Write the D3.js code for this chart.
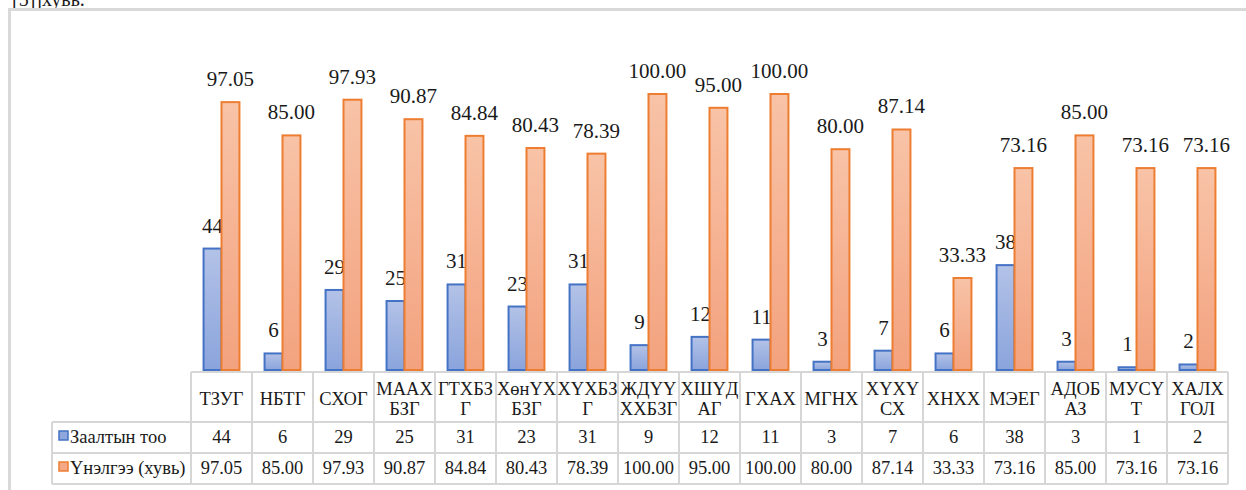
<!DOCTYPE html>
<html>
<head>
<meta charset="utf-8">
<script src="https://cdn.jsdelivr.net/npm/d3@7"></script>
</head>
<body style="margin:0; background:#fff">
<script>
var width = 1246; var height = 490;

// category names, each split in the lines shown in the table header
var categories = ["ТЗУГ", "НБТГ", "СХОГ", "МААХ БЗГ", "ГТХБЗ Г", "ХөнҮХ БЗГ", "ХҮХБЗ Г",
    "ЖДҮҮ ХХБЗГ", "ХШҮД АГ", "ГХАХ", "МГНХ", "ХҮХҮ СХ", "ХНХХ", "МЭЕГ", "АДОБ АЗ", "МУСҮ Т", "ХАЛХ ГОЛ"];
var counts = [44, 6, 29, 25, 31, 23, 31, 9, 12, 11, 3, 7, 6, 38, 3, 1, 2];
var scores = [97.05, 85.00, 97.93, 90.87, 84.84, 80.43, 78.39, 100.00, 95.00, 100.00, 80.00, 87.14, 33.33, 73.16, 85.00, 73.16, 73.16];
var seriesNames = ["Заалтын тоо", "Үнэлгээ (хувь)"];

var plot = { left: 191, right: 1228, top: 94, base: 370 };
var table = { legendLeft: 52, top: 372, row1: 422, row2: 453, row3: 484 };
var font = "'Liberation Serif'";
var ink = "#1a1a1a";
var gridColor = "#d6d6d6";

var svg = d3.select("body").append("svg")
    .attr("width", width)
    .attr("height", height)
    .style("display", "block");

// text above the frame, cut off at the top like the source
svg.append("text")
    .attr("x", 12).attr("y", 6)
    .style("font-family", font)
    .attr("font-size", 20)
    .attr("fill", ink)
    .text("[5]]хувь.");

// outer frame
svg.append("rect")
    .attr("x", 9.5).attr("y", 9.5)
    .attr("width", 1400).attr("height", 700)
    .attr("fill", "none")
    .attr("stroke", "#d9d9d9")
    .attr("stroke-width", 3);

var defs = svg.append("defs");
function addGrad(id, top, bottom) {
  var g = defs.append("linearGradient").attr("id", id)
      .attr("x1", 0).attr("y1", 0).attr("x2", 0).attr("y2", 1);
  g.append("stop").attr("offset", "0%").attr("stop-color", top);
  g.append("stop").attr("offset", "100%").attr("stop-color", bottom);
}
addGrad("gBlue", "#b3c2e7", "#8aa4dc");
addGrad("gOrange", "#f8c3a7", "#f3a27e");

var x = d3.scaleBand()
    .domain(categories)
    .range([plot.left, plot.right])
    .padding(0);

var xs = d3.scaleBand()
    .domain([0, 1])
    .range([0, x.bandwidth()])
    .paddingInner(0)
    .paddingOuter(0.7);

var y = d3.scaleLinear()
    .domain([0, 100])
    .range([plot.base, plot.top]);

var series = [
  { values: counts, fill: "url(#gBlue)", stroke: "#4472c4", fmt: d3.format("d"), marker: "#8ea8de" },
  { values: scores, fill: "url(#gOrange)", stroke: "#ed7d31", fmt: d3.format(".2f"), marker: "#f5a886" }
];

var bars = svg.append("g");
series.forEach(function (s, si) {
  var g = bars.append("g");
  g.selectAll("rect")
      .data(s.values)
      .enter().append("rect")
      .attr("x", function (d, i) { return x(categories[i]) + xs(si); })
      .attr("y", function (d) { return y(d); })
      .attr("width", xs.bandwidth())
      .attr("height", function (d) { return y(0) - y(d); })
      .attr("fill", s.fill)
      .attr("stroke", s.stroke)
      .attr("stroke-width", 2);

  g.selectAll("text")
      .data(s.values)
      .enter().append("text")
      .attr("x", function (d, i) { return x(categories[i]) + xs(si) + xs.bandwidth() / 2; })
      .attr("y", function (d) { return y(d) - 16; })
      .attr("text-anchor", "middle")
      .style("font-family", font)
      .attr("font-size", 21)
      .attr("fill", ink)
      .text(function (d) { return s.fmt(d); });
});

// data table
var grid = svg.append("g")
    .attr("stroke", gridColor)
    .attr("stroke-width", 2)
    .attr("fill", "none");

grid.append("line").attr("x1", plot.left).attr("x2", plot.right).attr("y1", table.top).attr("y2", table.top);
[table.row1, table.row2, table.row3].forEach(function (yy) {
  grid.append("line").attr("x1", table.legendLeft).attr("x2", plot.right).attr("y1", yy).attr("y2", yy);
});
grid.append("line").attr("x1", table.legendLeft).attr("x2", table.legendLeft).attr("y1", table.row1).attr("y2", table.row3);
grid.selectAll(".v")
    .data(categories.concat(["end"]))
    .enter().append("line")
    .attr("x1", function (d, i) { return plot.left + i * x.bandwidth(); })
    .attr("x2", function (d, i) { return plot.left + i * x.bandwidth(); })
    .attr("y1", table.top)
    .attr("y2", table.row3);

function cell(xx, yy, anchor) {
  return svg.append("text")
      .attr("x", xx).attr("y", yy)
      .attr("text-anchor", anchor)
      .style("font-family", font)
      .attr("font-size", 18.5)
      .attr("fill", ink);
}

categories.forEach(function (c, i) {
  var cx = x(c) + x.bandwidth() / 2;
  var lines = c.split(" ");
  if (lines.length == 1) {
    cell(cx, 405, "middle").text(c);
  } else {
    var t = cell(cx, 395, "middle");
    t.append("tspan").attr("x", cx).attr("y", 395).text(lines[0]);
    t.append("tspan").attr("x", cx).attr("y", 415).text(lines[1]);
  }
  cell(cx, 443, "middle").text(counts[i]);
  cell(cx, 474, "middle").text(d3.format(".2f")(scores[i]));
});

// legend keys inside the table
series.forEach(function (s, si) {
  var yy = si == 0 ? 443 : 474;
  svg.append("rect")
      .attr("x", 59).attr("y", yy - 12)
      .attr("width", 9).attr("height", 9)
      .attr("fill", s.marker)
      .attr("stroke", s.stroke)
      .attr("stroke-width", 1.5);
  cell(70, yy, "start").text(seriesNames[si]);
});
</script>
</body>
</html>
